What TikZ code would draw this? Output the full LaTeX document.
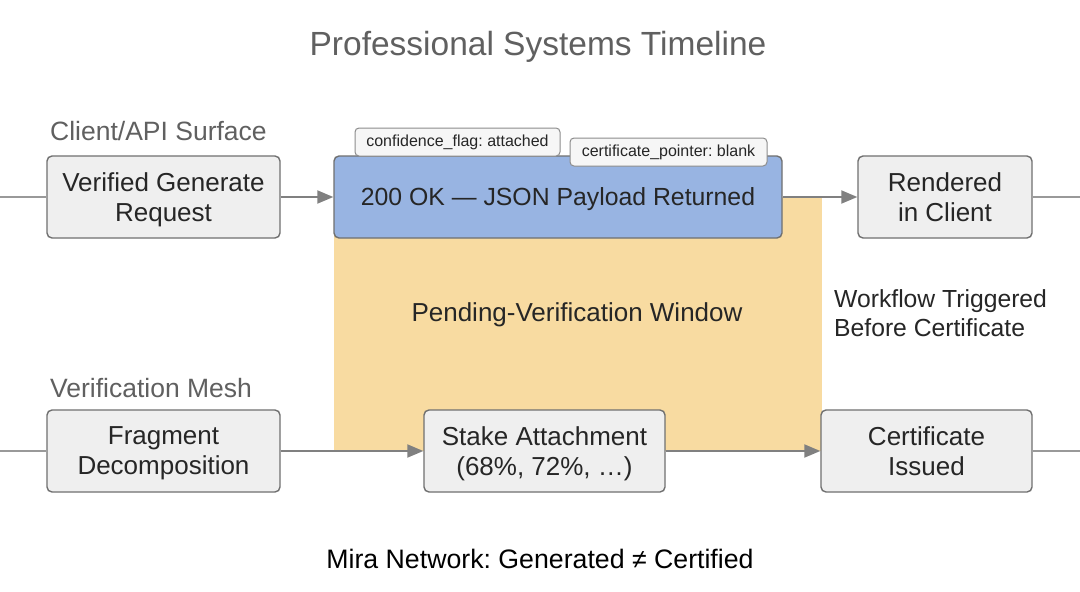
\documentclass[tikz,border=0pt]{standalone}
\usepackage{fontspec}
\setmainfont{Liberation Sans}
\usetikzlibrary{arrows.meta}
\frenchspacing
\definecolor{boxfill}{HTML}{EFEFEF}
\definecolor{boxdraw}{HTML}{707070}
\definecolor{bluefill}{HTML}{98B4E2}
\definecolor{yellowfill}{HTML}{F8DBA1}
\definecolor{linegray}{HTML}{808080}
\definecolor{titlegray}{HTML}{606060}
\definecolor{tagfill}{HTML}{F6F6F6}
\begin{document}
\begin{tikzpicture}[x=1pt,y=-1pt,
  stepbox/.style={draw=boxdraw, fill=boxfill, rounded corners=5pt, line width=1.4pt,
    align=center, inner sep=0pt, minimum height=82pt, text depth=0pt,
    font=\fontsize{26}{30}\selectfont, text=black!85},
  tagbox/.style={draw=boxdraw!80, fill=tagfill, rounded corners=4pt, line width=1pt,
    inner sep=0pt, minimum height=28pt, font=\fontsize{16}{18}\selectfont, text=black!85},
  flow/.style={draw=linegray, line width=2pt, -{Triangle[length=16pt,width=13pt]}},
  plainline/.style={draw=linegray!80, line width=1.6pt},
  lanelabel/.style={anchor=west, inner sep=0pt, text=titlegray, font=\fontsize{26.5}{30}\selectfont},
  plaintext/.style={inner sep=0pt, text=black!85, font=\fontsize{26}{29}\selectfont}
]
\useasboundingbox (0,0) rectangle (1080,592);
\fill[white] (0,0) rectangle (1080,592);

% title
\node[inner sep=0pt, text=titlegray, font=\fontsize{33.5}{38}\selectfont] (title) at (538,47) {Professional Systems Timeline};

% pending window
\node[fill=yellowfill, anchor=north west, inner sep=0pt, minimum width=488pt, minimum height=254pt] (win) at (334,197) {};

% lane labels
\node[lanelabel] (lane1) at (50,131) {Client/API Surface};
\node[lanelabel] (lane2) at (50,388) {Verification Mesh};

% end coordinates
\coordinate (l1) at (0,197);
\coordinate (r1) at (1080,197);
\coordinate (l2) at (0,451);
\coordinate (r2) at (1080,451);

% top lane nodes
\node[stepbox, minimum width=233pt] (req) at (163.5,197) {Verified Generate\\Request};
\node[stepbox, fill=bluefill, minimum width=448pt, font=\fontsize{24.8}{30}\selectfont] (ok) at (558,197) {200 OK — JSON Payload Returned};
\node[stepbox, minimum width=174pt] (rend) at (945,197) {Rendered\\in Client};

% tags
\node[tagbox, minimum width=205pt] (tag1) at (457.5,142) {confidence\_flag: attached};
\node[tagbox, minimum width=197pt] (tag2) at (668.5,152) {certificate\_pointer: blank};

% bottom lane nodes
\node[stepbox, minimum width=233pt] (frag) at (163.5,451) {Fragment\\Decomposition};
\node[stepbox, minimum width=241pt] (stake) at (544.5,451) {Stake Attachment\\(68\%, 72\%, …)};
\node[stepbox, minimum width=211pt] (cert) at (926.5,451) {Certificate\\Issued};

% connectors
\draw[plainline] (l1) -- (req.west);
\draw[flow] (req.east) -- (ok.west);
\draw[flow] (ok.east) -- (rend.west);
\draw[plainline] (rend.east) -- (r1);
\draw[plainline] (l2) -- (frag.west);
\draw[flow] (frag.east) -- (stake.west);
\draw[flow] (stake.east) -- (cert.west);
\draw[plainline] (cert.east) -- (r2);

% texts
\node[plaintext] (pend) at (577,315) {Pending-Verification Window};
\node[plaintext, anchor=west, align=left, font=\fontsize{24.7}{29}\selectfont] (wf) at (834,313) {Workflow Triggered\\Before Certificate};
\node[plaintext, font=\fontsize{26.7}{30}\selectfont, text=black] (cap) at (540,559) {Mira Network: Generated ≠ Certified};
\end{tikzpicture}
\end{document}
